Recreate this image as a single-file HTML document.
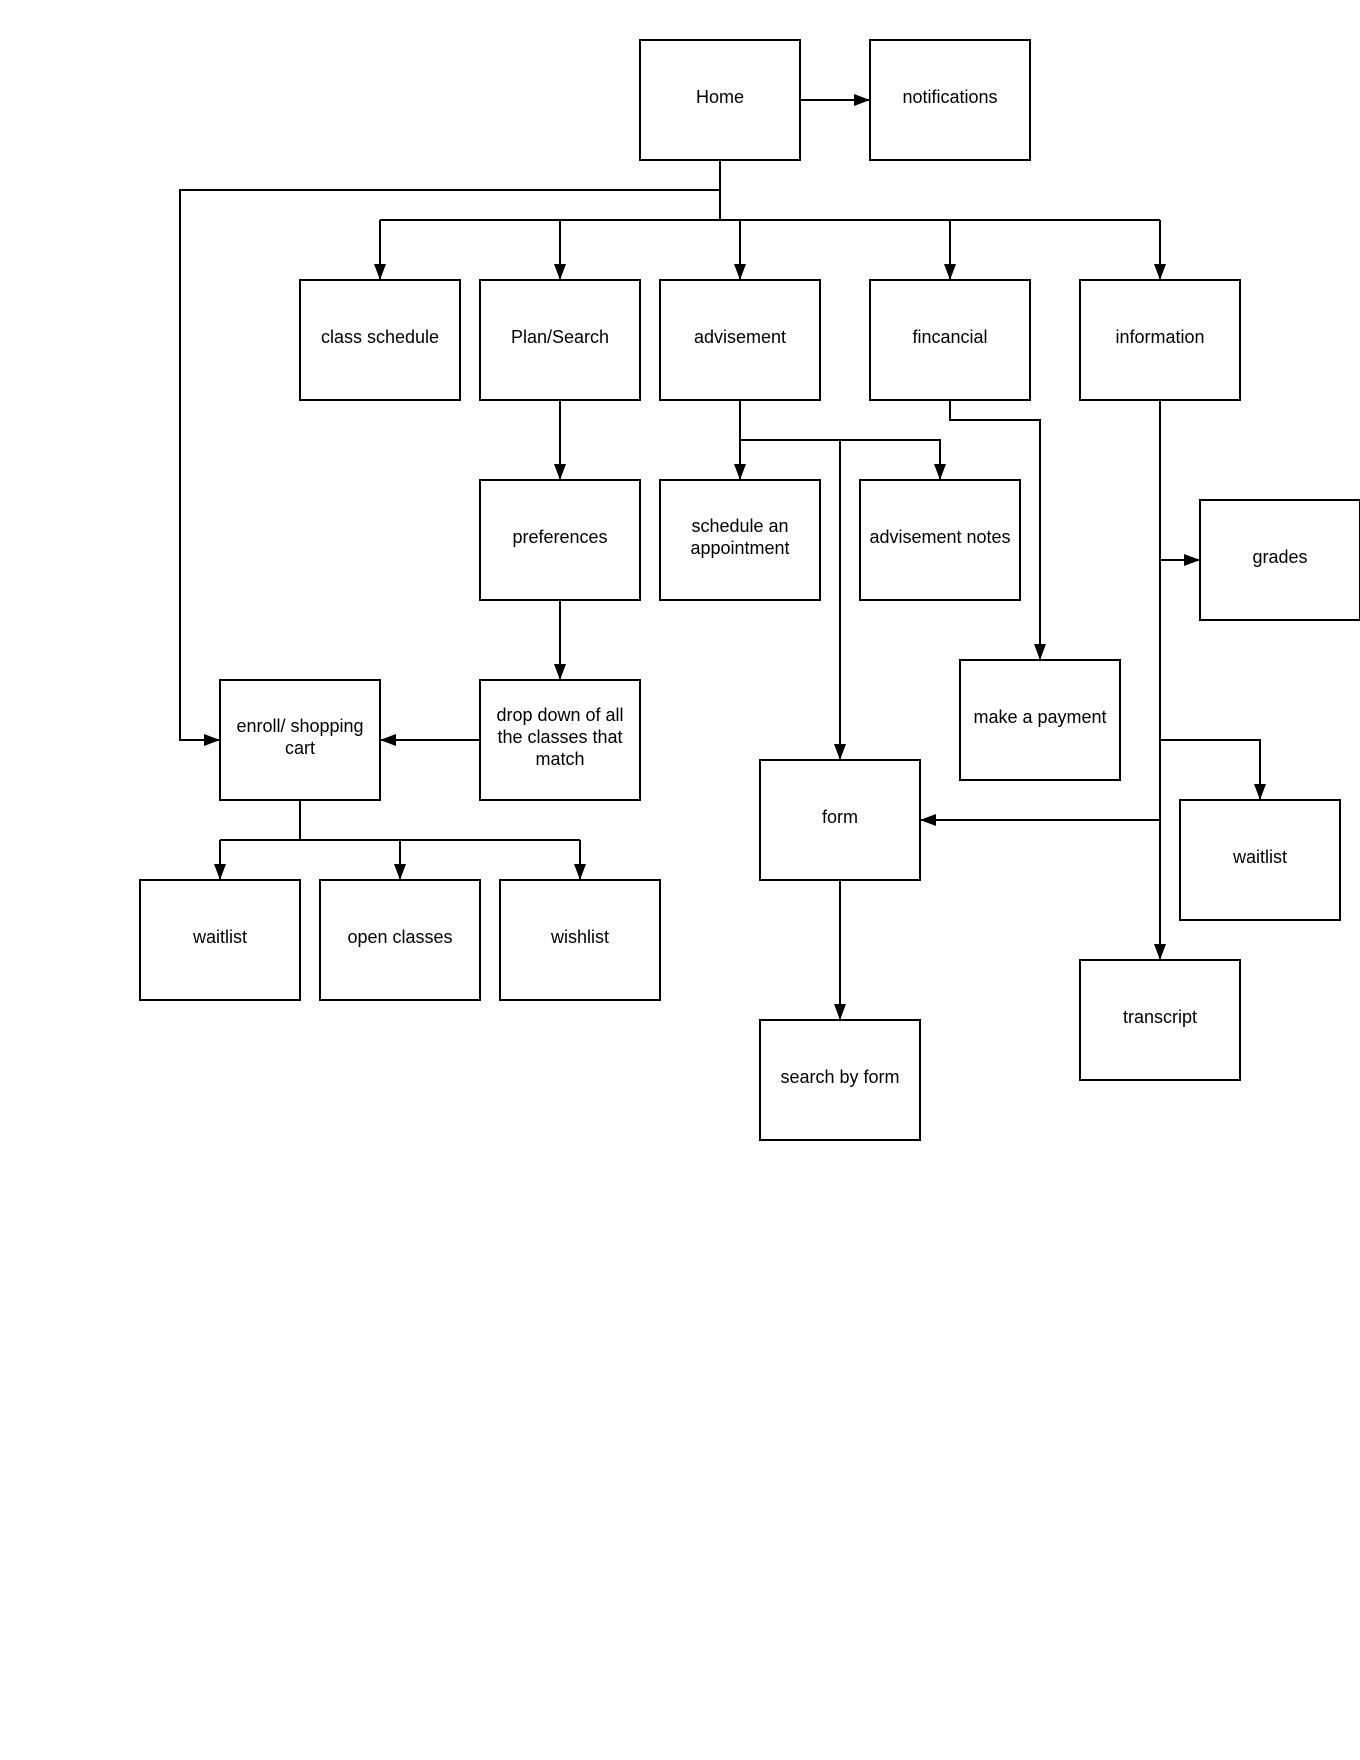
<!DOCTYPE html>
<html><head><meta charset="utf-8"><style>
html,body{margin:0;padding:0;background:#fff;}
svg{display:block;}
text{font-family:"Liberation Sans",Arial,sans-serif;font-size:18px;fill:#000;}
</style></head><body>
<svg width="1360" height="1760" viewBox="0 0 1360 1760" xmlns="http://www.w3.org/2000/svg">
<defs>
<marker id="a" markerWidth="16" markerHeight="12" refX="16" refY="6" orient="auto" markerUnits="userSpaceOnUse">
<path d="M0,0 L16,6 L0,12 z" fill="#000"/>
</marker>
</defs>
<g fill="none" stroke="#000" stroke-width="2">
<path d="M800,100 H870" marker-end="url(#a)"/>
<path d="M720,160 V220"/>
<path d="M720,190 H180 V740 H220" marker-end="url(#a)"/>
<path d="M380,220 H1160"/>
<path d="M380,220 V280" marker-end="url(#a)"/>
<path d="M560,220 V280" marker-end="url(#a)"/>
<path d="M740,220 V280" marker-end="url(#a)"/>
<path d="M950,220 V280" marker-end="url(#a)"/>
<path d="M1160,220 V280" marker-end="url(#a)"/>
<path d="M560,400 V480" marker-end="url(#a)"/>
<path d="M560,600 V680" marker-end="url(#a)"/>
<path d="M480,740 H380" marker-end="url(#a)"/>
<path d="M740,400 V480" marker-end="url(#a)"/>
<path d="M740,440 H940 V480" marker-end="url(#a)"/>
<path d="M840,440 V760" marker-end="url(#a)"/>
<path d="M950,400 V420 H1040 V660" marker-end="url(#a)"/>
<path d="M1160,400 V960" marker-end="url(#a)"/>
<path d="M1160,560 H1200" marker-end="url(#a)"/>
<path d="M1160,740 H1260 V800" marker-end="url(#a)"/>
<path d="M1160,820 H920" marker-end="url(#a)"/>
<path d="M300,800 V840"/>
<path d="M220,840 H580"/>
<path d="M220,840 V880" marker-end="url(#a)"/>
<path d="M400,840 V880" marker-end="url(#a)"/>
<path d="M580,840 V880" marker-end="url(#a)"/>
<path d="M840,880 V1020" marker-end="url(#a)"/>
<rect x="640" y="40" width="160" height="120"/>
<rect x="870" y="40" width="160" height="120"/>
<rect x="300" y="280" width="160" height="120"/>
<rect x="480" y="280" width="160" height="120"/>
<rect x="660" y="280" width="160" height="120"/>
<rect x="870" y="280" width="160" height="120"/>
<rect x="1080" y="280" width="160" height="120"/>
<rect x="480" y="480" width="160" height="120"/>
<rect x="660" y="480" width="160" height="120"/>
<rect x="860" y="480" width="160" height="120"/>
<rect x="1200" y="500" width="160" height="120"/>
<rect x="960" y="660" width="160" height="120"/>
<rect x="220" y="680" width="160" height="120"/>
<rect x="480" y="680" width="160" height="120"/>
<rect x="760" y="760" width="160" height="120"/>
<rect x="1180" y="800" width="160" height="120"/>
<rect x="140" y="880" width="160" height="120"/>
<rect x="320" y="880" width="160" height="120"/>
<rect x="500" y="880" width="160" height="120"/>
<rect x="1080" y="960" width="160" height="120"/>
<rect x="760" y="1020" width="160" height="120"/>
</g>
<g text-anchor="middle">
<text x="720" y="103">Home</text>
<text x="950" y="103">notifications</text>
<text x="380" y="343">class schedule</text>
<text x="560" y="343">Plan/Search</text>
<text x="740" y="343">advisement</text>
<text x="950" y="343">fincancial</text>
<text x="1160" y="343">information</text>
<text x="560" y="543">preferences</text>
<text x="740" y="532">schedule an</text>
<text x="740" y="554">appointment</text>
<text x="940" y="543">advisement notes</text>
<text x="1280" y="563">grades</text>
<text x="1040" y="723">make a payment</text>
<text x="300" y="732">enroll/ shopping</text>
<text x="300" y="754">cart</text>
<text x="560" y="721">drop down of all</text>
<text x="560" y="743">the classes that</text>
<text x="560" y="765">match</text>
<text x="840" y="823">form</text>
<text x="1260" y="863">waitlist</text>
<text x="220" y="943">waitlist</text>
<text x="400" y="943">open classes</text>
<text x="580" y="943">wishlist</text>
<text x="1160" y="1023">transcript</text>
<text x="840" y="1083">search by form</text>
</g>
</svg>
</body></html>
